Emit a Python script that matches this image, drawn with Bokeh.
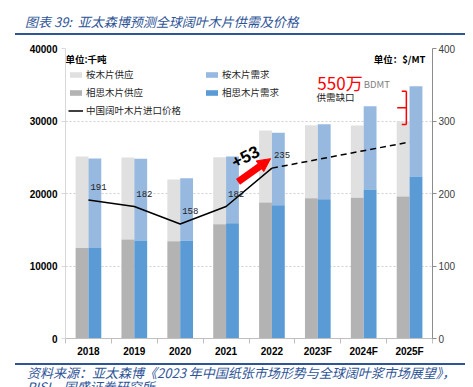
from bokeh.plotting import figure
from bokeh.models import (Range1d, LinearAxis, FixedTicker, Legend, LegendItem, Label,
                          Arrow, NormalHead, ColumnDataSource, Div)
from bokeh.layouts import column
from bokeh.core.properties import value
from bokeh.embed import file_html
from bokeh.resources import INLINE

years = ["2018", "2019", "2020", "2021", "2022", "2023F", "2024F", "2025F"]
acacia_supply = [12500, 13650, 13430, 15770, 18760, 19360, 19400, 19590]
euc_supply = [12600, 11320, 8500, 9240, 9930, 10070, 9980, 10340]
acacia_demand = [12500, 13520, 13470, 15910, 18390, 19220, 20550, 22340]
euc_demand = [12330, 11270, 8640, 9190, 9980, 10340, 11490, 12460]
price_actual = [191, 182, 158, 182, 235]
price_forecast = [235, 247, 259, 271]
left_ticks = [0, 10000, 20000, 30000, 40000]
right_ticks = [0, 100, 200, 300, 400]
gap_text = "550万"
title_text = "图表 39:&nbsp;&nbsp;亚太森博预测全球阔叶木片供需及价格"
source_line1 = "资料来源：亚太森博《2023 年中国纸张市场形势与全球阔叶浆市场展望》，"
source_line2 = "RISI，国盛证券研究所"

CJK = "Noto Sans CJK SC"
LAT = "Liberation Sans"
BLUE = "#2f5597"

xs = list(range(len(years)))
supply_total = [a + e for a, e in zip(acacia_supply, euc_supply)]
demand_total = [a + e for a, e in zip(acacia_demand, euc_demand)]

p = figure(width=465, height=322, output_backend="svg", toolbar_location=None,
           x_range=Range1d(-0.5, len(years) - 0.5), y_range=Range1d(0, 40000),
           min_border_left=65, min_border_right=33, min_border_top=8, min_border_bottom=24,
           margin=0)
p.extra_y_ranges = {"price": Range1d(0, 400)}
p.outline_line_color = None
p.background_fill_color = "white"
p.border_fill_color = "white"

bw = 0.28
off = 0.14
src = ColumnDataSource(dict(
    xs_s=[x - off for x in xs], xs_d=[x + off for x in xs],
    a_s=acacia_supply, t_s=supply_total, a_d=acacia_demand, t_d=demand_total))

r_es = p.vbar(x="xs_s", bottom="a_s", top="t_s", width=bw, source=src,
              fill_color="#e0e0e0", line_color=None)
r_as = p.vbar(x="xs_s", bottom=0, top="a_s", width=bw, source=src,
              fill_color="#b3b3b3", line_color=None)
r_ed = p.vbar(x="xs_d", bottom="a_d", top="t_d", width=bw, source=src,
              fill_color="#97b9e0", line_color=None)
r_ad = p.vbar(x="xs_d", bottom=0, top="a_d", width=bw, source=src,
              fill_color="#5b9bd5", line_color=None)

n_act = len(price_actual)
r_pr = p.line(xs[:n_act], price_actual, y_range_name="price", line_color="black", line_width=1.5)
p.line(xs[n_act - 1:n_act - 1 + len(price_forecast)], price_forecast, y_range_name="price",
       line_color="black", line_width=1.5, line_dash="6 4")
p.text(xs[:n_act], price_actual, text=[str(v) for v in price_actual], y_range_name="price",
       x_offset=2, y_offset=-13, text_font=value("Liberation Mono"), text_font_size="9px",
       text_baseline="middle", text_align="left", text_color="#222222")

# axes
p.yaxis.ticker = FixedTicker(ticks=left_ticks)
p.yaxis.axis_line_color = "#d9d9d9"
p.yaxis.major_tick_line_color = "#d9d9d9"
p.yaxis.major_tick_out = 4
p.yaxis.major_tick_in = 0
p.yaxis.minor_tick_line_color = None
p.yaxis.major_label_text_font = LAT
p.yaxis.major_label_text_font_style = "bold"
p.yaxis.major_label_text_font_size = "10px"
p.yaxis.major_label_text_color = "black"
p.yaxis.major_label_standoff = 4

ra = LinearAxis(y_range_name="price", ticker=FixedTicker(ticks=right_ticks))
ra.axis_line_color = "#8c8c8c"
ra.major_tick_line_color = "#8c8c8c"
ra.major_tick_out = 4
ra.major_tick_in = 0
ra.minor_tick_line_color = None
ra.major_label_text_font = LAT
ra.major_label_text_font_size = "10px"
ra.major_label_text_color = "#404040"
ra.major_label_standoff = 2
p.add_layout(ra, "right")

p.xaxis.ticker = FixedTicker(ticks=xs, minor_ticks=[x - 0.5 for x in xs] + [xs[-1] + 0.5])
p.xaxis.major_label_overrides = {x: y for x, y in zip(xs, years)}
p.xaxis.axis_line_color = "#bfbfbf"
p.xaxis.major_tick_line_color = None
p.xaxis.major_tick_out = 0
p.xaxis.major_tick_in = 0
p.xaxis.minor_tick_line_color = "#bfbfbf"
p.xaxis.minor_tick_out = 5
p.xaxis.minor_tick_in = 0
p.xaxis.major_label_text_font = LAT
p.xaxis.major_label_text_font_style = "bold"
p.xaxis.major_label_text_font_size = "10px"
p.xaxis.major_label_text_color = "black"
p.xaxis.major_label_standoff = 2

p.xgrid.grid_line_color = None
p.ygrid.ticker = FixedTicker(ticks=left_ticks)
p.ygrid.grid_line_color = "#cfcfcf"
p.ygrid.grid_line_dash = "2 2"

# legends
def mk_legend(items, loc):
    lg = Legend(items=items, location=loc, orientation="vertical",
                background_fill_alpha=0, border_line_color=None, padding=0, margin=0,
                spacing=4, label_height=14, glyph_height=7, glyph_width=15,
                label_standoff=3, label_text_font=CJK, label_text_font_size="9.5px",
                label_text_color="#262626")
    p.add_layout(lg, "center")

mk_legend([LegendItem(label="桉木片供应", renderers=[r_es]),
           LegendItem(label="相思木片供应", renderers=[r_as]),
           LegendItem(label="中国阔叶木片进口价格", renderers=[r_pr])], (3, 221))
mk_legend([LegendItem(label="桉木片需求", renderers=[r_ed]),
           LegendItem(label="相思木片需求", renderers=[r_ad])], (139, 239))

# units
p.add_layout(Label(x=0, y=280, x_units="screen", y_units="screen", text="单位:千吨",
                   text_font=CJK, text_font_style="bold", text_font_size="9.5px",
                   text_baseline="middle", text_align="left", text_color="black"))
p.add_layout(Label(x=360, y=280, x_units="screen", y_units="screen", text="单位：$/MT",
                   text_font=CJK, text_font_style="bold", text_font_size="9.5px",
                   text_baseline="middle", text_align="right", text_color="black"))

# gap annotation
p.add_layout(Label(x=4.99, y=35350, text=gap_text, text_font=CJK, text_font_size="17px",
                   text_baseline="middle", text_align="left", text_color="#ff0000"))
p.add_layout(Label(x=6.0, y=35150, text="BDMT", text_font=CJK, text_font_size="9.5px",
                   text_baseline="middle", text_align="left", text_color="#7f7f7f"))
p.add_layout(Label(x=4.97, y=33280, text="供需缺口", text_font=CJK, text_font_size="9.5px",
                   text_baseline="middle", text_align="left", text_color="#1a1a1a"))
last = len(years) - 1
b_lo = supply_total[last] - 400
b_hi = demand_total[last] - 700
b_mid = (b_lo + b_hi) / 2
bx = last - 0.07
p.multi_line([[bx, bx], [bx - 0.1, bx], [bx - 0.1, bx], [bx - 0.2, bx]],
             [[b_lo, b_hi], [b_lo, b_lo], [b_hi, b_hi], [b_mid, b_mid]],
             line_color="#ff0000", line_width=1.5)

# +53 arrow
p.add_layout(Arrow(x_start=3.26, y_start=21600, x_end=3.97, y_end=24800,
                   line_color="#ff0000", line_width=7,
                   end=NormalHead(size=13, fill_color="#ff0000", line_color="#ff0000")))
p.add_layout(Label(x=3.42, y=25100, text="+53", angle=0.47, text_font=LAT,
                   text_font_style="bold", text_font_size="17px", text_align="center",
                   text_baseline="middle", text_color="black"))

# title & source as page elements
title_div = Div(width=465, height=40, margin=0, text=(
    '<div style="position:relative;width:465px;height:40px;overflow:hidden;">'
    '<div style="position:absolute;left:25px;top:14px;line-height:16px;white-space:nowrap;'
    f'font-family:\'{CJK}\';font-style:italic;font-size:13px;color:{BLUE};">{title_text}</div>'
    f'<div style="position:absolute;left:15px;top:33px;width:452px;height:2px;background:{BLUE};"></div>'
    '</div>'))
foot_div = Div(width=465, height=25, margin=0, text=(
    '<div style="position:relative;width:465px;height:25px;overflow:hidden;">'
    f'<div style="position:absolute;left:15px;top:1px;width:452px;height:2px;background:{BLUE};"></div>'
    '<div style="position:absolute;left:27px;top:4px;line-height:14px;white-space:nowrap;'
    f'font-family:\'{CJK}\';font-style:italic;font-size:13px;color:{BLUE};">'
    f'{source_line1}<br>{source_line2}</div>'
    '</div>'))

layout = column(title_div, p, foot_div, spacing=0, margin=0)
open("out.html", "w").write(file_html(layout, INLINE))
